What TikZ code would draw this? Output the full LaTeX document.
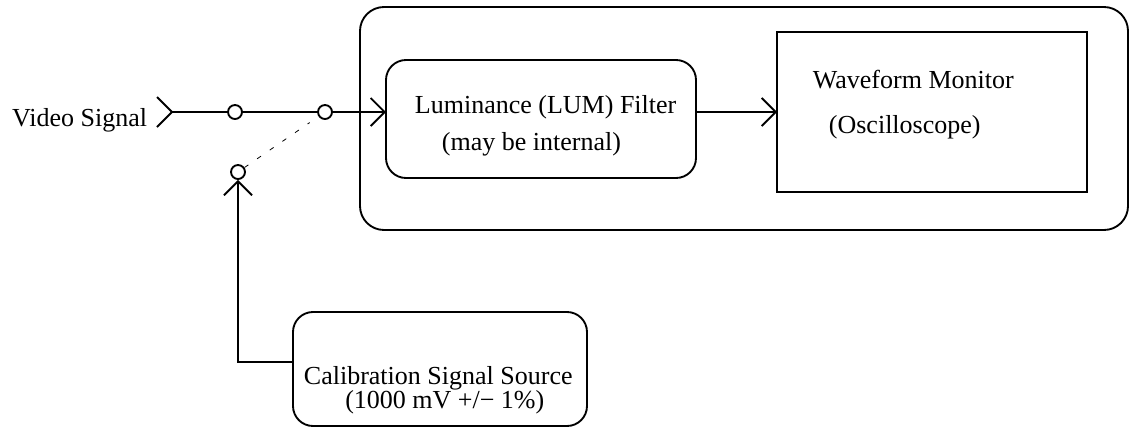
\documentclass[tikz,border=0pt]{standalone}
\usepackage{fontspec}
\setmainfont{Liberation Serif}
\usetikzlibrary{positioning, arrows.meta}

\begin{document}
\begin{tikzpicture}[
        x=0.75pt, y=-0.75pt,
        line width=1.4pt,
        font=\fontsize{19.5}{23}\selectfont,
        box/.style={draw, rectangle, rounded corners=15pt, inner sep=0pt, outer sep=0pt},
        plainbox/.style={draw, rectangle, inner sep=0pt, outer sep=0pt},
        switchpt/.style={draw, circle, fill=white, inner sep=0pt, minimum size=10.5pt},
        txt/.style={anchor=base west, inner sep=0pt},
        arrow/.style={-{Straight Barb[length=10.5pt, width=21pt]}},
        dashline/.style={line width=0.6pt, dash pattern=on 3.5pt off 8pt}
        ]
        \useasboundingbox (0,0) rectangle (1131,426);

        % blocks
        \node[box, rounded corners=18pt, minimum width=768*0.75pt, minimum height=223*0.75pt] (scope) at (744,118.5) {};
        \node[box, fill=white, minimum width=310*0.75pt, minimum height=118*0.75pt] (lum) at (541,119) {};
        \node[plainbox, minimum width=310*0.75pt, minimum height=160*0.75pt] (wave) at (932,112) {};
        \node[box, minimum width=294*0.75pt, minimum height=114*0.75pt] (calib) at (440,369) {};

        % texts
        \node[anchor=base east, inner sep=0pt] (vsig) at (148,126) {Video Signal};
        \node[txt] (lumA) at (414,113) {Luminance (LUM) Filter};
        \node[txt] (lumB) at (441,150) {(may be internal)};
        \node[txt] (waveA) at (812,88) {Waveform Monitor};
        \node[txt] (waveB) at (828,133) {(Oscilloscope)};
        \node[anchor=north west, inner sep=0pt, align=left, font=\fontsize{19.5}{18}\selectfont]
            (calibtxt) at (303,366) {Calibration Signal Source\\\hspace*{31pt}(1000 mV +/− 1\%)};

        % switch
        \coordinate (vin) at (172,112);
        \node[switchpt] (sw1) at (235,112) {};
        \node[switchpt] (sw2) at (325,112) {};
        \node[switchpt] (sw3) at (238,172) {};

        \draw (vin) ++(-15,-15) -- (vin) -- ++(-15,15);
        \draw (vin) -- (sw1) -- (sw2);
        \draw[dashline, shorten >=8pt] (sw3) -- (sw2);
        \draw[arrow] (sw2) -- (sw2 -| lum.west);
        \draw[arrow] (lum.east |- wave.west) -- (wave.west);
        \draw[arrow] ([yshift=5pt]calib.west) -| (sw3);
    \end{tikzpicture}
\end{document}
